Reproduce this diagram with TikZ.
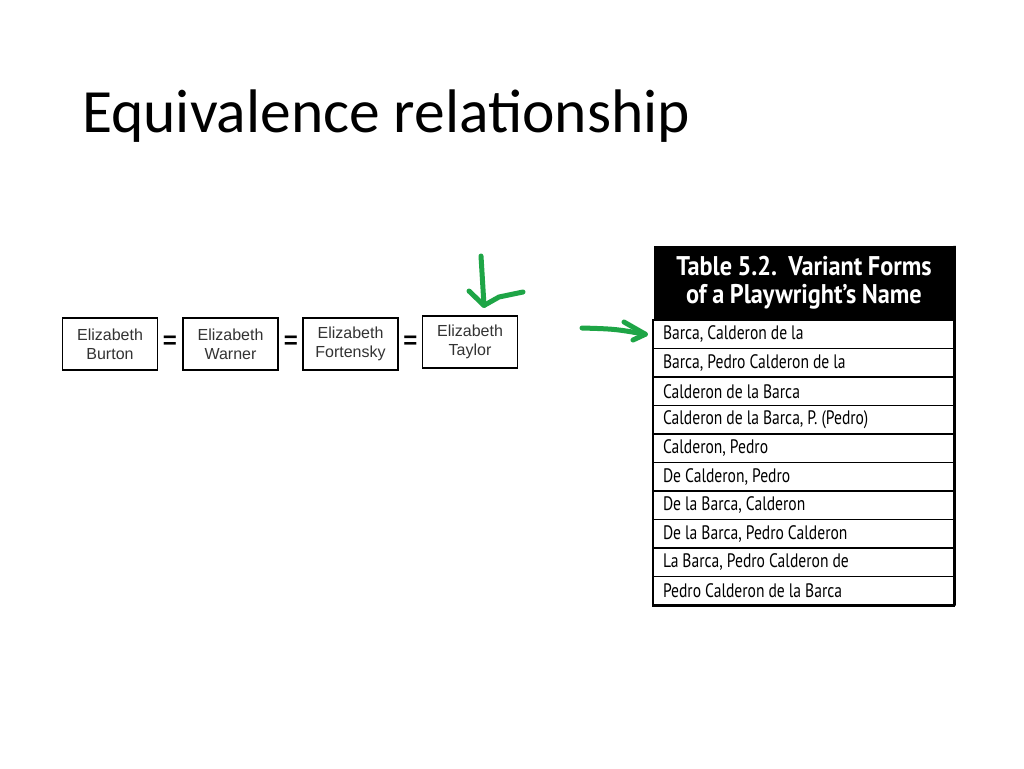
\documentclass[tikz,border=0pt]{standalone}
\usepackage{fontspec}
\setmainfont{Carlito}
\newfontfamily\boxfont{Liberation Sans}
\newfontfamily\tabfont[FakeStretch=0.80]{PT Sans}
\newfontfamily\headfont[FakeStretch=0.90, WordSpace=0.9]{PT Sans}
\newcommand\rowfont{\tabfont\fontsize{19.5}{20}\selectfont\spaceskip=4pt plus 1pt minus 1pt\relax}
\usetikzlibrary{positioning}

\definecolor{penGreen}{RGB}{30,165,70}

\tikzset{
  namebox/.style={draw, line width=1.1pt, minimum width=95pt, minimum height=52pt,
    inner sep=0pt, align=center, font=\boxfont\fontsize{16}{19}\selectfont, text=black!80},
  eqsign/.style={inner sep=0pt, font=\boxfont\bfseries\fontsize{24}{24}\selectfont},
  tabrow/.style={draw, line width=1.2pt, minimum width=301pt, minimum height=28.5pt,
    inner sep=0pt, text width=291pt, align=left},
  pen/.style={penGreen, line width=5pt, line cap=round, line join=round}
}

\begin{document}
\begin{tikzpicture}[x=1pt, y=-1pt]
  \useasboundingbox[fill=white] (0,0) rectangle (1024,768);

  % title
  \node[anchor=base west, inner sep=0pt, font=\fontsize{61.5}{70}\selectfont]
    (title) at (82,132) {Equivalence relationship};

  % chain of names
  \node[namebox] (burton) at (110,344) {Elizabeth\\Burton};
  \node[namebox] (warner) at (230.5,344) {Elizabeth\\Warner};
  \node[namebox] (fortensky) at (350.5,344) {Elizabeth\\Fortensky};
  \node[namebox] (taylor) at (470,342) {Elizabeth\\Taylor};
  \node[eqsign] (eq1) at (170,342) {=};
  \node[eqsign] (eq2) at (291,342) {=};
  \node[eqsign] (eq3) at (410.5,342) {=};

  % table of variant forms
  \node[fill=black, minimum width=301pt, minimum height=74pt, inner sep=0pt, align=center,
    text=white, font=\headfont\bfseries\fontsize{27}{28}\selectfont]
    (head) at (804,283) {Table 5.2.\ \ Variant Forms\\of a Playwright’s Name};
  \foreach \txt [count=\i] in {{Barca, Calderon de la}, {Barca, Pedro Calderon de la},
      {Calderon de la Barca}, {Calderon de la Barca, P. (Pedro)}, {Calderon, Pedro},
      {De Calderon, Pedro}, {De la Barca, Calderon}, {De la Barca, Pedro Calderon},
      {La Barca, Pedro Calderon de}, {Pedro Calderon de la Barca}}
    \node[tabrow] (row\i) at (803.5,{334.25+28.5*(\i-1)}) {\rowfont\hspace*{5pt}\txt};
  \draw[line width=2.5pt] (head.north east) -- (row10.south east);
  \draw[line width=2pt] (row10.south west) -- (row10.south east);

  % hand drawn arrows
  \coordinate[above right=10pt and 14pt of taylor.north] (tip1);
  \coordinate[left=7pt of row1.west] (tip2);
  \draw[pen] (481,256) .. controls (483,280) .. (tip1);
  \draw[pen] (469,291) -- (tip1) -- (499,297) -- (523,292);
  \draw[pen] (582,328) .. controls (615,329) .. (tip2);
  \draw[pen] (624,322) -- (tip2) -- (633,340);
\end{tikzpicture}
\end{document}
